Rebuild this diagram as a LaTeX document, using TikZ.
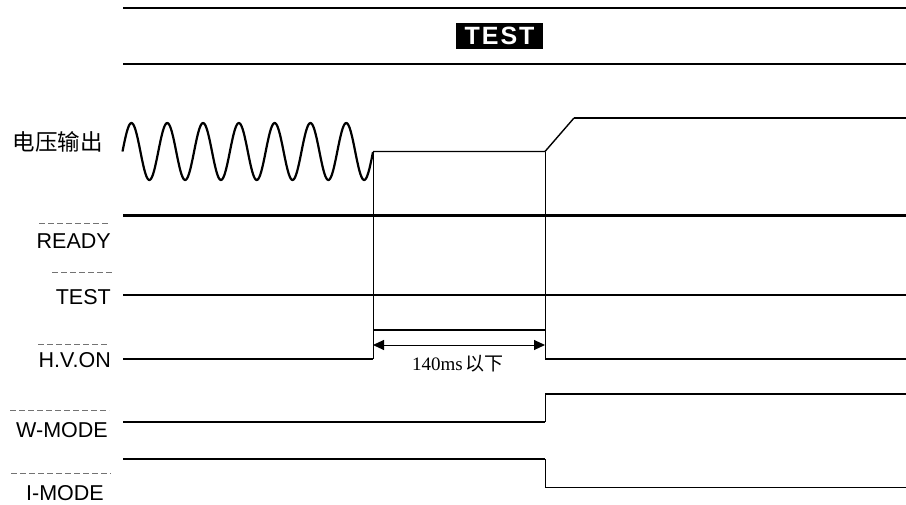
\documentclass[tikz,border=0pt]{standalone}
\usepackage{fontspec}
\setmainfont{Liberation Sans}
\newfontfamily\cjkfont{Noto Sans CJK SC}
\newfontfamily\serifnum{Liberation Serif}
\usetikzlibrary{arrows.meta}
\begin{document}
\begin{tikzpicture}[x=1pt,y=-1pt,
  thinsig/.style={line width=1.4pt,line join=miter},
  thicksig/.style={line width=2.4pt,line join=miter},
  edge/.style={line width=0.9pt},
  sigl/.style={anchor=east,inner sep=0pt,font=\fontsize{21.5}{21.5}\selectfont},
  bar/.style={black!55,line width=0.9pt,dash pattern=on 6pt off 3pt},
  dim/.style={line width=1pt,{Triangle[length=11pt,width=10pt]}-{Triangle[length=11pt,width=10pt]}}]
\useasboundingbox (0,0) rectangle (906,504);
% header
\draw[line width=1.8pt] (123,8) -- (906,8);
\draw[line width=1.5pt] (123,64) -- (906,64);
\node[fill=black,text=white,minimum width=87pt,minimum height=26pt,inner sep=0pt,
  font=\bfseries\fontsize{25}{25}\selectfont] (title) at (499.5,36) {\addfontfeature{LetterSpace=8}TEST};
% voltage output
\node[anchor=east,inner sep=0pt,font=\cjkfont\fontsize{22.5}{22.5}\selectfont] (vlab) at (103,142) {电压输出};
\draw[line width=2.2pt,line join=round]
  plot[domain=122.5:373,samples=281] (\x,{151.5-28.5*sin(10.0559*(\x-122.5))});
\coordinate (vA) at (373,151.5);
\coordinate (vB) at (545,151.5);
\coordinate (vC) at (574,118);
\coordinate (vD) at (906,118);
\draw[thinsig] (vA) -- (vB) -- (vC);
\draw[thicksig] (vC) -- (vD);
% READY
\node[sigl] (lready) at (111,241.5) {READY};
\draw[bar] (39,223) -- (108,223);
\draw[line width=3pt] (123,215) -- (906,215);
% TEST
\node[sigl] (ltest) at (111,297) {TEST};
\draw[bar] (52,272) -- (112,272);
\draw[thinsig] (123,295) -- (906,295);
% H.V.ON
\node[sigl] (lhv) at (111,360) {H.V.ON};
\draw[bar] (38,344) -- (108,344);
\coordinate (h1) at (373,359);
\coordinate (h2) at (373,330);
\coordinate (h3) at (545,330);
\coordinate (h4) at (545,359);
\draw[thinsig] (123,359) -- (h1);
\draw[edge] (vA) -- (h1);
\draw[edge] (vB) -- (h4);
\draw[thicksig] (h2) -- (h3);
\draw[thinsig] (h4) -- (906,359);
% dimension
\coordinate (d1) at (373,345);
\coordinate (d2) at (545,345);
\draw[dim] (d1) -- (d2);
\node[inner sep=0pt,font=\fontsize{19}{19}\selectfont] (dlab) at (458,364)
  {\serifnum 140ms\,\cjkfont 以下};
% W-MODE
\node[sigl] (lw) at (108,430) {W-MODE};
\draw[bar] (10,410) -- (109,410);
\draw[thinsig] (123,422) -- (545,422);
\draw[edge] (545,422) -- (545,394);
\draw[thicksig] (545,394) -- (906,394);
% I-MODE
\node[sigl] (li) at (104,493) {I-MODE};
\draw[bar] (11,473) -- (111,473);
\draw[thicksig] (123,459) -- (545,459);
\draw[edge] (545,459) -- (545,487.5);
\draw[thinsig] (545,487.5) -- (906,487.5);
\end{tikzpicture}
\end{document}
